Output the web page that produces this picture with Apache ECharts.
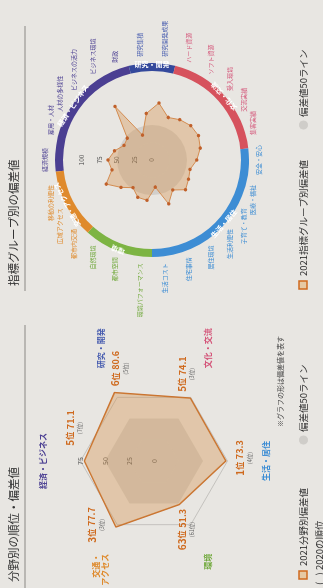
<!DOCTYPE html>
<html>
<head>
<meta charset="utf-8">
<script src="https://cdn.jsdelivr.net/npm/echarts@6/dist/echarts.min.js"></script>
<style>
  html, body { margin: 0; padding: 0; width: 323px; height: 588px; overflow: hidden; background: #e8e6e2; }
  /* the page is printed sideways: a landscape chart turned a quarter turn to the left */
  #chart { position: absolute; left: 0; top: 0; width: 588px; height: 323px;
           transform-origin: 0 0; transform: translate(0, 588px) rotate(-90deg); }
</style>
</head>
<body>
<div id="chart"></div>
<script>
// ---- six fields (clockwise from the top) ----
const fields = ['経済・ビジネス', '研究・開発', '文化・交流', '生活・居住', '環境', '交通・アクセス'];
const fieldAxisNames = ['経済・ビジネス', '研究・開発', '文化・交流', '生活・居住', '環境', '交通・\nアクセス'];
const fieldScores2021 = [71.1, 80.6, 74.1, 73.3, 51.3, 77.7];
const fieldRanks2021 = [5, 6, 5, 1, 63, 3];
const fieldRanks2020 = [7, 5, 3, 4, 61, 3];
const scaleTicks = [0, 25, 50, 75, 100];

// ---- indicator groups (clockwise from the top) ----
const groupNames = [
  '経済規模', '雇用・人材', '人材の多様性', 'ビジネスの活力', 'ビジネス環境', '財政',
  '研究集積', '研究開発成果',
  'ハード資源', 'ソフト資源', '受入環境', '交流実績', '集客実績',
  '安全・安心', '医療・福祉', '子育て・教育', '生活利便性', '居住環境', '住宅事情', '生活コスト',
  '環境パフォーマンス', '都市空間', '自然環境',
  '都市内交通', '広域アクセス', '移動の利便性'
];
const groupField = [0,0,0,0,0,0, 1,1, 2,2,2,2,2, 3,3,3,3,3,3,3, 4,4,4, 5,5,5];
const groupScores2021 = [
  63, 55, 45, 47, 93, 38,
  67, 82,
  65, 70, 74, 75, 71,
  64, 56, 59, 64, 52, 67, 39,
  58, 57, 48,
  59, 74, 59
];

// ---- styling ----
const FONT = '"Noto Sans CJK JP", "Noto Sans", sans-serif';
const fieldColors = ['#4b3f92', '#34499c', '#d6525d', '#3d8dd4', '#7db443', '#df8a2c'];
const fieldTextColors = ['#4b3f92', '#4a5fb0', '#d4567a', '#3d8dd4', '#6fa83a', '#df8a2c'];
const RANK = '#cf6a1e';
const AREA = 'rgba(214,148,80,0.38)';
const GREY50 = 'rgba(130,128,124,0.22)';

// radar in ECharts runs counter-clockwise; keep the first axis on top and flip the rest
const ccw = arr => [arr[0]].concat(arr.slice(1).reverse());
const ccwIndex = i => (i === 0 ? 0 : arr_len => arr_len - i);

const hexCenter = [127, 154], hexRadius = 98;
const ringCenter = [428, 152], ringRadius = 70;

const hexIndicators = ccw(fields.map((f, i) => ({
  name: fieldAxisNames[i], min: scaleTicks[0], max: scaleTicks[scaleTicks.length - 1],
  color: fieldTextColors[i]
})));
hexIndicators[0].axisLabel = {
  show: true, showMaxLabel: false, margin: 0, align: 'center', verticalAlign: 'middle',
  fontSize: 7, color: '#555', fontFamily: FONT
};

const ringIndicators = ccw(groupNames.map((g, i) => ({
  name: g, min: scaleTicks[0], max: scaleTicks[scaleTicks.length - 1],
  color: fieldTextColors[groupField[i]]
})));
ringIndicators[0].axisLabel = {
  show: true, margin: 0, align: 'center', verticalAlign: 'middle',
  fontSize: 6.5, color: '#555', fontFamily: FONT
};

// ring segments: one slice per field, sized by its number of groups
const ringSegments = fields.map((f, i) => ({
  name: f,
  value: groupField.filter(v => v === i).length,
  itemStyle: { color: fieldColors[i] }
}));

const chart = echarts.init(document.getElementById('chart'), null, { renderer: 'canvas' });

chart.setOption({
  animation: false,
  backgroundColor: '#e8e6e2',
  textStyle: { fontFamily: FONT },
  title: [
    { text: '分野別の順位・偏差値', left: 1, top: 3,
      textStyle: { fontSize: 11.5, fontWeight: 'normal', color: '#333', fontFamily: FONT } },
    { text: '指標グループ別の偏差値', left: 297, top: 3,
      textStyle: { fontSize: 11.5, fontWeight: 'normal', color: '#333', fontFamily: FONT } }
  ],
  radar: [
    {
      center: hexCenter, radius: hexRadius, startAngle: 90, shape: 'polygon',
      splitNumber: scaleTicks.length - 1,
      indicator: hexIndicators,
      nameGap: 9,
      axisName: { fontSize: 8, fontWeight: 'bold', fontFamily: FONT, lineHeight: 9 },
      axisLine: { show: false },
      axisTick: { show: false },
      splitLine: { lineStyle: { color: ['rgba(0,0,0,0)', 'rgba(0,0,0,0)', 'rgba(0,0,0,0)', '#c4c2be'], width: 1 } },
      splitArea: { show: true, areaStyle: { color: [GREY50, GREY50, 'rgba(0,0,0,0)', 'rgba(0,0,0,0)'] } }
    },
    {
      center: ringCenter, radius: ringRadius, startAngle: 90, shape: 'circle',
      splitNumber: scaleTicks.length - 1,
      indicator: ringIndicators,
      nameGap: 34,
      axisName: { fontSize: 6, fontFamily: FONT },
      axisLine: { show: false },
      axisTick: { show: false },
      splitLine: { show: false },
      splitArea: { show: true, areaStyle: { color: [GREY50, GREY50, 'rgba(0,0,0,0)', 'rgba(0,0,0,0)'] } }
    }
  ],
  series: [
    {
      type: 'radar', radarIndex: 0, silent: true, symbol: 'none',
      lineStyle: { color: '#c9702c', width: 1.5 },
      areaStyle: { color: AREA, opacity: 1 },
      data: [{ name: '2021分野別偏差値', value: ccw(fieldScores2021) }]
    },
    {
      type: 'radar', radarIndex: 1, silent: true, symbol: 'circle', symbolSize: 3.5,
      itemStyle: { color: '#c0602a' },
      lineStyle: { color: '#d48b52', width: 1 },
      areaStyle: { color: AREA, opacity: 1 },
      data: [{ name: '2021指標グループ別偏差値', value: ccw(groupScores2021) }]
    },
    {
      type: 'pie', silent: true, center: ringCenter, radius: [89, 97],
      startAngle: 90 + 180 / groupNames.length, clockwise: true,
      label: { position: 'inside', rotate: 'tangential', color: '#fff', fontSize: 7,
               fontWeight: 'bold', fontFamily: FONT },
      labelLine: { show: false },
      itemStyle: { borderWidth: 0 },
      emphasis: { disabled: true },
      data: ringSegments
    }
  ]
});

// rank / score labels, placed next to each vertex of the field polygon
const rankOffsets = [[33, -10], [24, 5], [24, -4], [3, 18], [-25, 7], [2, -20]];
const radarCS = chart.getModel().getComponent('radar', 0).coordinateSystem;
const n = fields.length;
const rankTexts = fields.map((f, i) => {
  const axisIdx = i === 0 ? 0 : n - i;
  const p = radarCS.dataToPoint(fieldScores2021[i], axisIdx);
  return {
    type: 'text', silent: true,
    x: p[0] + rankOffsets[i][0], y: p[1] + rankOffsets[i][1],
    style: {
      text: '{n|' + fieldRanks2021[i] + '}{u|位} {v|' + fieldScores2021[i].toFixed(1) + '}\n{p|(' + fieldRanks2020[i] + '位)}',
      align: 'center', verticalAlign: 'middle', fontFamily: FONT,
      rich: {
        n: { fontSize: 10, fontWeight: 'bold', fill: RANK, fontFamily: FONT },
        u: { fontSize: 8, fontWeight: 'bold', fill: RANK, fontFamily: FONT },
        v: { fontSize: 9, fontWeight: 'bold', fill: RANK, fontFamily: FONT },
        p: { fontSize: 5.5, fill: '#666', fontFamily: FONT, lineHeight: 8 }
      }
    }
  };
});

const txt = (x, y, s, size, color) => ({
  type: 'text', silent: true, x: x, y: y,
  style: { text: s, fontSize: size, fill: color || '#333', fontFamily: FONT, verticalAlign: 'middle' }
});

chart.setOption({
  graphic: rankTexts.concat([
    { type: 'line', silent: true, shape: { x1: 0, y1: 25, x2: 263, y2: 25 }, style: { stroke: '#8a8884', lineWidth: 1 } },
    { type: 'line', silent: true, shape: { x1: 297, y1: 25, x2: 562, y2: 25 }, style: { stroke: '#8a8884', lineWidth: 1 } },
    txt(161, 280, '※グラフの形は偏差値を表す', 7, '#444'),
    // left legend
    { type: 'rect', silent: true, shape: { x: 9, y: 299, width: 8, height: 8 },
      style: { fill: '#e6c9a4', stroke: RANK, lineWidth: 1.5 } },
    txt(22, 303.5, '2021分野別偏差値', 9.5),
    { type: 'circle', silent: true, shape: { cx: 148, cy: 303.5, r: 4.5 }, style: { fill: '#cfcdc9' } },
    txt(156, 303.5, '偏差値50ライン', 9.5),
    txt(3, 319, '(   ) 2020の順位', 9.5),
    // right legend
    { type: 'rect', silent: true, shape: { x: 299, y: 299, width: 8, height: 8 },
      style: { fill: '#e6c9a4', stroke: RANK, lineWidth: 1.5 } },
    txt(312, 303.5, '2021指標グループ別偏差値', 9.5),
    { type: 'circle', silent: true, shape: { cx: 463, cy: 303.5, r: 4.5 }, style: { fill: '#cfcdc9' } },
    txt(471, 303.5, '偏差値50ライン', 9.5)
  ])
});
</script>
</body>
</html>
